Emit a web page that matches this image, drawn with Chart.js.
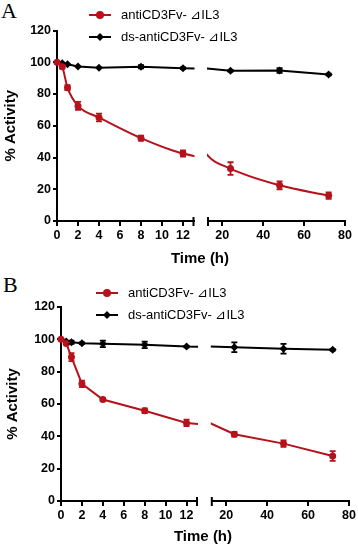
<!DOCTYPE html>
<html>
<head>
<meta charset="utf-8">
<script src="https://cdn.jsdelivr.net/npm/chart.js@4.4.1/dist/chart.umd.min.js"></script>
<style>
body { margin: 0; background: #fff; width: 358px; height: 547px; position: relative; overflow: hidden;
       font-family: "Liberation Sans", Arial, sans-serif; color: #000; }
canvas { position: absolute; }
.lbl { position: absolute; white-space: nowrap; }
.panel { font-family: "Liberation Serif", "Times New Roman", serif; font-size: 22px; line-height: 22px; }
.leg { font-size: 13px; line-height: 16px; }
.xt { font-weight: bold; font-size: 15px; line-height: 18px; transform: translateX(-50%); }
</style>
</head>
<body>
<div class="lbl panel" style="left:1px;top:0px">A</div>
<div class="lbl panel" style="left:3px;top:274px">B</div>

<canvas id="aLeft" width="201" height="270" style="left:0;top:0"></canvas>
<canvas id="aRight" width="157" height="270" style="left:201px;top:0"></canvas>
<canvas id="bLeft" width="204" height="270" style="left:0;top:275px"></canvas>
<canvas id="bRight" width="154" height="270" style="left:204px;top:275px"></canvas>

<canvas id="legA0" width="26" height="10" style="left:87px;top:10px"></canvas>
<canvas id="legA1" width="26" height="10" style="left:87px;top:32px"></canvas>
<div class="lbl leg" id="txtA0" style="left:121px;top:7px"></div>
<div class="lbl leg" id="txtA1" style="left:121px;top:29px"></div>
<canvas id="legB0" width="26" height="10" style="left:94px;top:288px"></canvas>
<canvas id="legB1" width="26" height="10" style="left:94px;top:310px"></canvas>
<div class="lbl leg" id="txtB0" style="left:128px;top:285px"></div>
<div class="lbl leg" id="txtB1" style="left:128px;top:307px"></div>

<div class="lbl xt" style="left:200px;top:249px">Time (h)</div>
<div class="lbl xt" style="left:203px;top:527px">Time (h)</div>

<script>
// data
const times = [0, 0.5, 1, 2, 4, 8, 12, 24, 48, 72];
const xTicksLeft = [0, 2, 4, 6, 8, 10, 12];
const xTicksRight = [20, 40, 60, 80];
const yTicks = [0, 20, 40, 60, 80, 100, 120];
const seriesNames = ['antiCD3Fv- \u22BFIL3', 'ds-antiCD3Fv- \u22BFIL3'];

// panel A
const aRed = [100, 97.2, 84, 72.5, 65.2, 52.2, 42.5, 33, 22.5, 16];
const aRedErr = [0, 1, 1.5, 2.5, 2.5, 1.5, 2, 4, 2.5, 2];
const aBlack = [100, 99.4, 98.7, 97.3, 96.5, 97.2, 96.2, 94.6, 94.8, 92.3];
const aBlackErr = [0, 0, 0, 0, 0, 1, 0.5, 0.5, 1.5, 0.5];

// panel B
const bRed = [100, 97.5, 89, 72.5, 62.8, 55.8, 48.3, 41.3, 35.5, 27.8];
const bRedErr = [0, 0.5, 2.5, 2, 1, 1.5, 2, 1.5, 2, 3];
const bBlack = [100, 98.6, 98.2, 97.6, 97.2, 96.6, 95.5, 95.1, 94.2, 93.6];
const bBlackErr = [0, 0, 1, 0.5, 2, 2, 0.5, 3, 3, 0.5];

const RED = '#b5121b';
const BLACK = '#000000';
const BREAK = 13;

Chart.defaults.font.family = '"Liberation Sans", Arial, sans-serif';
Chart.defaults.color = '#000';

// is time t on the other side of the axis break?
function hidden(isLeft, t) {
    return isLeft ? t > BREAK : t < BREAK;
}

// error bars drawn through the chart's own scales
const errorBars = {
    id: 'errorBars',
    afterDatasetsDraw(chart) {
        const { ctx, scales } = chart;
        const isLeft = chart.options.plugins.errorBars.isLeft;
        ctx.save();
        chart.data.datasets.forEach(ds => {
            ctx.strokeStyle = ds.borderColor;
            ctx.lineWidth = 1.8;
            ds.data.forEach((p, i) => {
                const e = ds.errors[i];
                if (!e || hidden(isLeft, p.x)) return;
                const px = scales.x.getPixelForValue(p.x);
                const y1 = scales.y.getPixelForValue(p.y + e);
                const y2 = scales.y.getPixelForValue(p.y - e);
                ctx.beginPath();
                ctx.moveTo(px, y1); ctx.lineTo(px, y2);
                ctx.moveTo(px - 3, y1); ctx.lineTo(px + 3, y1);
                ctx.moveTo(px - 3, y2); ctx.lineTo(px + 3, y2);
                ctx.stroke();
            });
        });
        ctx.restore();
    }
};

// end caps at the axis break
const breakCap = {
    id: 'breakCap',
    afterDraw(chart) {
        const side = chart.options.plugins.breakCap.side;
        const { ctx, chartArea } = chart;
        const x = side === 'right' ? chartArea.right : chartArea.left;
        ctx.save();
        ctx.strokeStyle = '#000';
        ctx.lineWidth = 2;
        ctx.beginPath();
        ctx.moveTo(x, chartArea.bottom - 4);
        ctx.lineTo(x, chartArea.bottom + 5);
        ctx.stroke();
        ctx.restore();
    }
};

function makeChart(id, box, side, red, redErr, black, blackErr, smooth) {
    const isLeft = side === 'left';
    const clip = isLeft ? { left: 10, top: 10, right: 1, bottom: 10 } : { left: 1, top: 10, right: 10, bottom: 10 };
    const radius = r => c => (c.raw && hidden(isLeft, c.raw.x)) ? 0 : r;
    const ticksFont = { size: 12.5, weight: 'bold' };
    new Chart(document.getElementById(id), {
        type: 'line',
        data: {
            datasets: [{
                data: times.map((t, i) => ({ x: t, y: red[i] })),
                errors: redErr,
                borderColor: RED,
                backgroundColor: RED,
                borderWidth: 2,
                pointStyle: 'circle',
                pointRadius: radius(3.5),
                pointBorderWidth: 0,
                cubicInterpolationMode: smooth ? 'monotone' : 'default',
                clip: clip
            }, {
                data: times.map((t, i) => ({ x: t, y: black[i] })),
                errors: blackErr,
                borderColor: BLACK,
                backgroundColor: BLACK,
                borderWidth: 2,
                pointStyle: 'rectRot',
                pointRadius: radius(4),
                pointBorderWidth: 0,
                clip: clip
            }]
        },
        options: {
            responsive: false,
            animation: false,
            events: [],
            layout: { autoPadding: false, padding: { left: box.pl, right: box.pr, top: box.pt, bottom: box.pb } },
            plugins: {
                legend: { display: false },
                tooltip: { enabled: false },
                errorBars: { isLeft: isLeft },
                breakCap: { side: isLeft ? 'right' : 'left' }
            },
            scales: {
                x: {
                    type: 'linear',
                    min: isLeft ? 0 : BREAK,
                    max: isLeft ? BREAK : 80,
                    afterBuildTicks: s => { s.ticks = (isLeft ? xTicksLeft : xTicksRight).map(v => ({ value: v })); },
                    afterFit: s => { s.height = 30; },
                    ticks: { font: ticksFont, padding: 2, maxRotation: 0, autoSkip: false },
                    grid: { drawOnChartArea: false, drawTicks: true, tickLength: 5, color: '#000', lineWidth: 2 },
                    border: { display: true, color: '#000', width: 2 }
                },
                y: {
                    display: isLeft,
                    min: 0,
                    max: 120,
                    afterBuildTicks: s => { s.ticks = yTicks.map(v => ({ value: v })); },
                    afterFit: s => { s.width = box.yw; },
                    ticks: { font: ticksFont, padding: 2 },
                    grid: { drawOnChartArea: false, drawTicks: true, tickLength: 4, color: '#000', lineWidth: 2 },
                    border: { display: true, color: '#000', width: 2 },
                    title: { display: true, text: '% Activity', font: { size: 15, weight: 'bold' }, padding: { top: box.tp, bottom: 0 } }
                }
            }
        },
        plugins: [errorBars, breakCap]
    });
}

// panel A: plot area x 57..193.5 | 208..344, y 30.5..221
makeChart('aLeft', { pl: 0, pr: 7.5, pt: 30.5, pb: 19, yw: 57, tp: 2 }, 'left', aRed, aRedErr, aBlack, aBlackErr, true);
makeChart('aRight', { pl: 7, pr: 13, pt: 30.5, pb: 19, yw: 0, tp: 0 }, 'right', aRed, aRedErr, aBlack, aBlackErr, true);
// panel B: plot area x 61..197 | 211.8..348, y 307..501
makeChart('bLeft', { pl: 0, pr: 7, pt: 32, pb: 14, yw: 61, tp: 4 }, 'left', bRed, bRedErr, bBlack, bBlackErr, false);
makeChart('bRight', { pl: 7.8, pr: 6, pt: 32, pb: 14, yw: 0, tp: 0 }, 'right', bRed, bRedErr, bBlack, bBlackErr, false);

// legends
function drawIcon(id, color, style) {
    const ctx = document.getElementById(id).getContext('2d');
    ctx.strokeStyle = color;
    ctx.fillStyle = color;
    ctx.lineWidth = 2;
    ctx.beginPath(); ctx.moveTo(2, 5); ctx.lineTo(24, 5); ctx.stroke();
    ctx.beginPath();
    if (style === 'circle') {
        ctx.arc(13, 5, 4, 0, Math.PI * 2);
    } else {
        ctx.moveTo(13, 1); ctx.lineTo(17, 5); ctx.lineTo(13, 9); ctx.lineTo(9, 5); ctx.closePath();
    }
    ctx.fill();
}
['A', 'B'].forEach(p => {
    drawIcon('leg' + p + '0', RED, 'circle');
    drawIcon('leg' + p + '1', BLACK, 'rectRot');
    document.getElementById('txt' + p + '0').textContent = seriesNames[0];
    document.getElementById('txt' + p + '1').textContent = seriesNames[1];
});
</script>
</body>
</html>
